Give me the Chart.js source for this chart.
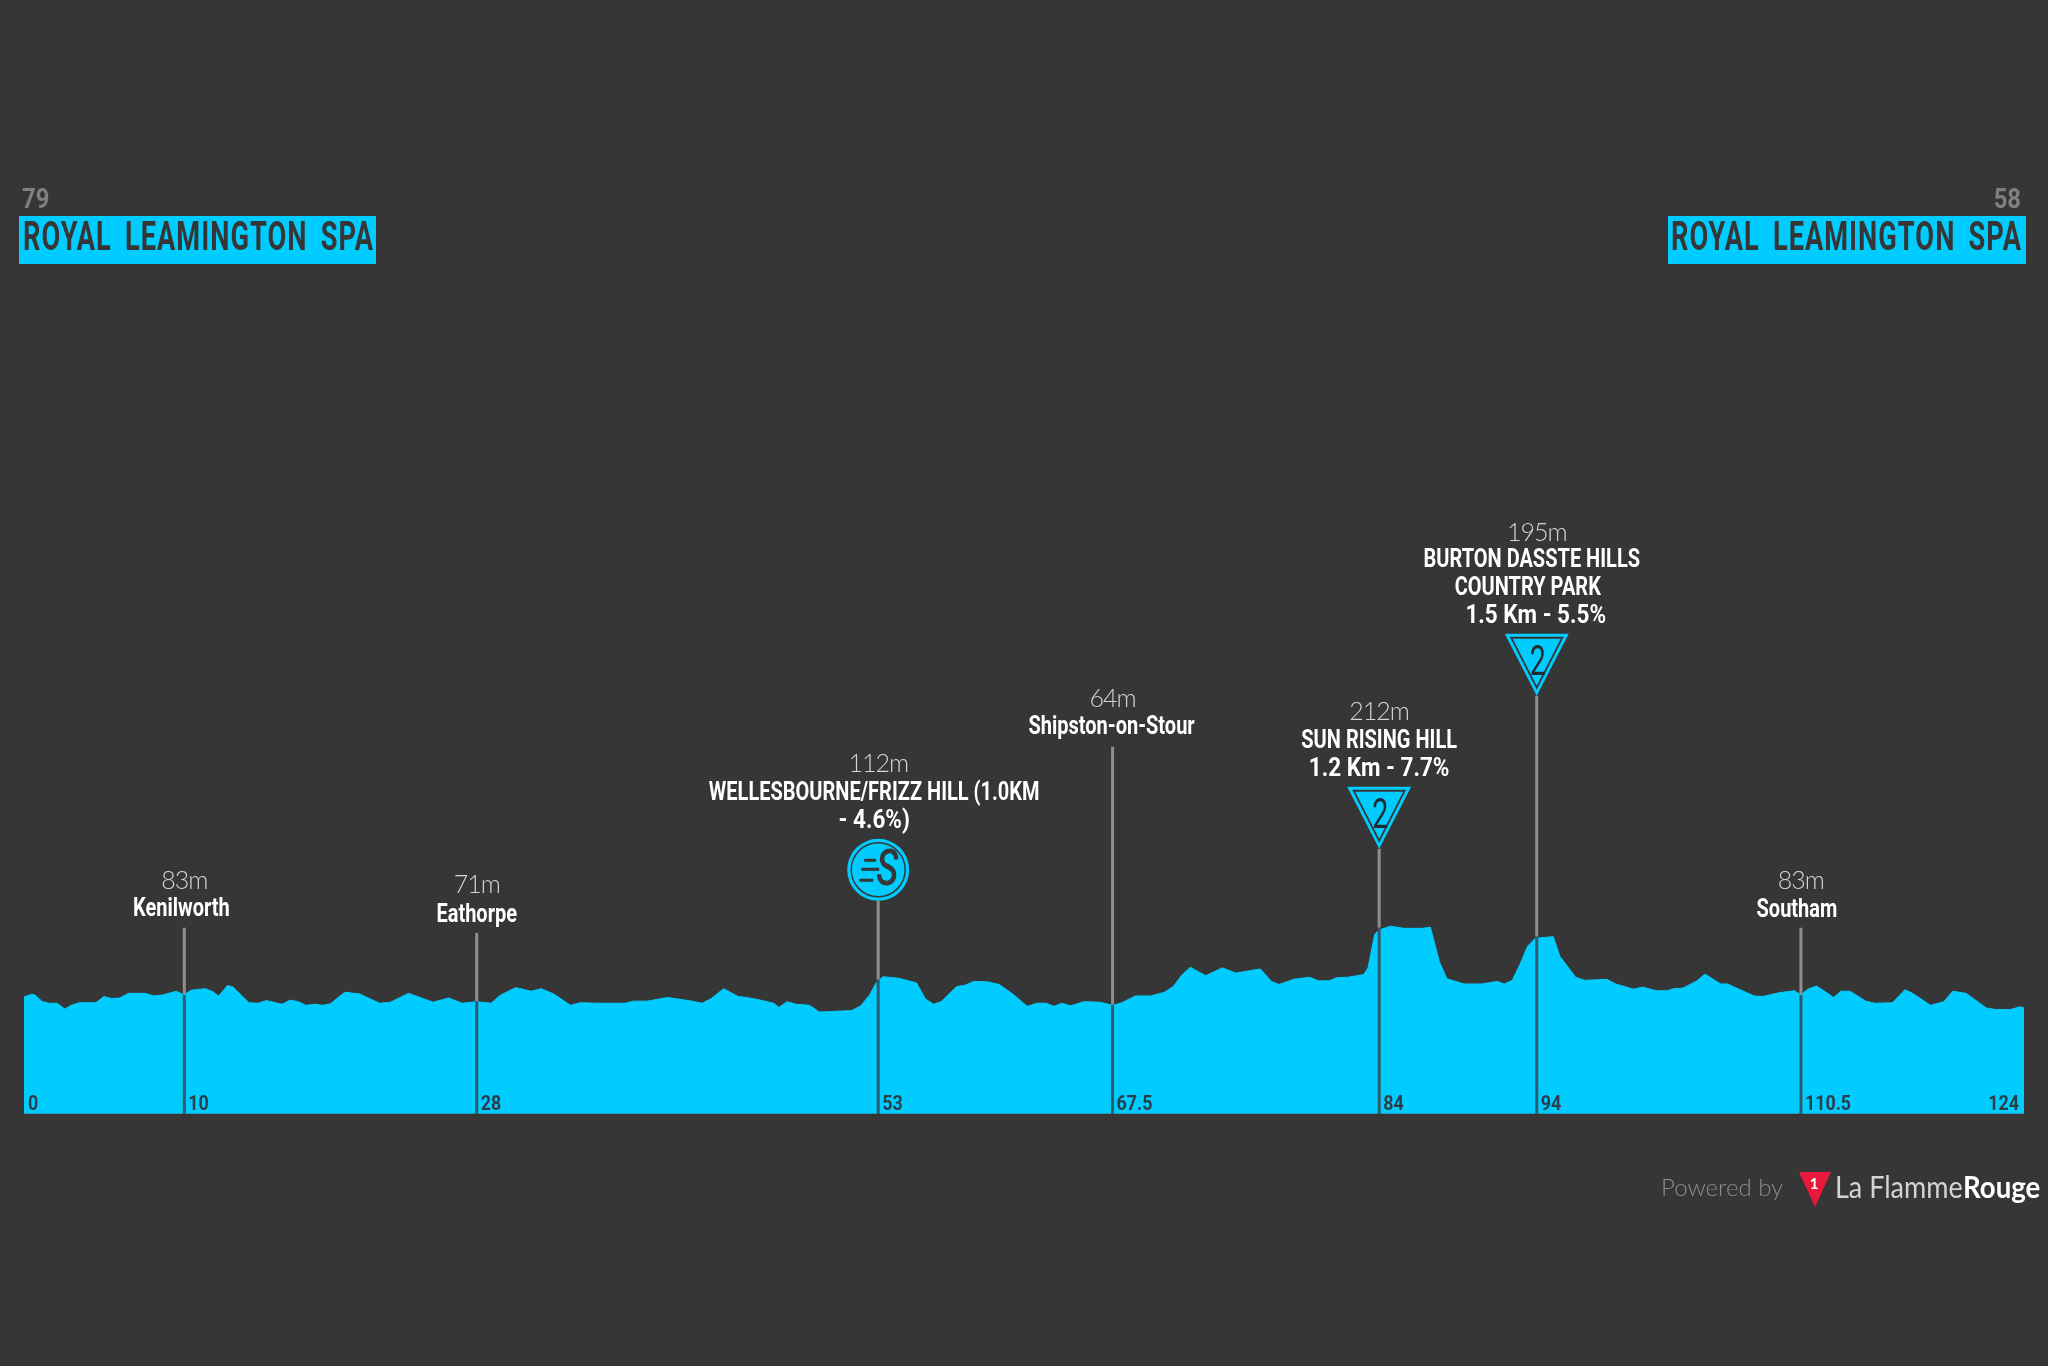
<!DOCTYPE html>
<html>
<head>
<meta charset="utf-8">
<title>Royal Leamington Spa stage profile</title>
<script src="https://cdn.jsdelivr.net/npm/chart.js@4/dist/chart.umd.min.js"></script>
<style>
  html, body { margin: 0; background: #363636; }
  canvas { display: block; }
</style>
</head>
<body>
<canvas id="profile" width="2048" height="1366"></canvas>
<script>
// route profile
const routeKm = [0, 0.45, 0.67, 1.14, 1.56, 2.05, 2.52, 2.94, 3.44, 4.46, 4.96, 5.43, 5.93, 6.48, 7.51, 8.06, 8.61, 9.44, 9.91, 10.36,
  11.24, 11.66, 12.07, 12.62, 12.96, 13.95, 14.51, 15.03, 16, 16.5, 17, 17.47, 18.02, 18.5, 19, 19.88, 20.79, 22.04, 22.73, 23.84,
  25.36, 26.33, 27.16, 28.07, 28.96, 29.51, 30.48, 31.45, 32.06, 32.83, 33.88, 34.49, 35.6, 37.26, 37.81, 38.64, 39.89, 41.22, 42.05, 42.61,
  43.38, 44.27, 44.82, 45.65, 46.48, 46.81, 47.31, 47.87, 48.7, 49.31, 50.08, 51.33, 51.88, 52.43, 52.85, 53.26, 54.23, 55.34, 55.89, 56.39,
  56.86, 57.83, 58.38, 58.88, 59.77, 60.46, 61.29, 62.2, 62.81, 63.37, 63.86, 64.33, 64.89, 65.72, 66.69, 67.52, 68.07, 68.9, 69.87, 70.7,
  71.25, 71.81, 72.31, 73.27, 74.3, 75.13, 76.65, 77.34, 77.81, 78.73, 79.7, 80.25, 80.94, 81.36, 82.08, 83.05, 83.33, 83.74, 84.02, 84.71,
  85.54, 86.65, 87.2, 87.75, 88.22, 89.28, 90.38, 91.35, 91.77, 92.27, 92.74, 93.21, 93.7, 94.81, 95.23, 96.2, 96.75, 98.13, 98.69, 99.79,
  100.35, 101.18, 101.87, 102.28, 102.84, 103.67, 104.22, 105.19, 105.61, 107.27, 107.82, 108.79, 109.76, 110.17, 110.59, 111.14, 111.83, 112.19, 112.66, 113.22,
  114.19, 114.74, 115.85, 116.62, 117.09, 118.2, 119.03, 119.58, 120.41, 121.66, 122.21, 123.18, 123.73, 124];
const routeElev = [79, 84, 83, 70, 67, 67, 56, 63, 68, 68, 80, 76, 77, 86, 86, 81, 83, 90, 83, 92,
  95, 90, 81, 101, 98, 68, 67, 72, 65, 73, 70, 63, 65, 63, 66, 88, 85, 67, 69, 86,
  69, 77, 67, 70, 67, 82, 97, 90, 95, 85, 63, 68, 67, 67, 71, 71, 78, 72, 67, 76,
  95, 80, 78, 73, 67, 59, 70, 65, 63, 50, 51, 53, 62, 83, 107, 118, 115, 106, 75, 65,
  70, 99, 102, 109, 108, 103, 85, 61, 67, 67, 61, 67, 62, 70, 69, 63, 68, 81, 81, 88,
  99, 122, 136, 120, 135, 125, 133, 109, 103, 113, 117, 110, 110, 116, 117, 122, 135, 199, 208, 215,
  211, 211, 213, 147, 114, 104, 104, 109, 104, 111, 141, 176, 192, 195, 157, 117, 111, 113, 104, 94,
  98, 91, 91, 95, 96, 109, 123, 104, 104, 81, 80, 87, 91, 83, 94, 100, 86, 78, 90, 90,
  71, 67, 68, 93, 86, 63, 70, 90, 86, 58, 55, 55, 60, 58];

// marked points along the route
const markerKm = [9.94, 28.07, 52.96, 67.49, 84.02, 93.79, 110.17];
const markerElev = [83, 71, 112, 64, 212, 195, 83];
const markerStemTop = [212, 202, 264, 560, 364, 658, 212];
const markerHeights = ['83m', '71m', '112m', '64m', '212m', '195m', '83m'];
const markerNames = [
  ['Kenilworth'],
  ['Eathorpe'],
  ['WELLESBOURNE/FRIZZ HILL (1.0KM', '- 4.6%)'],
  ['Shipston-on-Stour'],
  ['SUN RISING HILL', '1.2 Km - 7.7%'],
  ['BURTON DASSTE HILLS', 'COUNTRY PARK', '1.5 Km - 5.5%'],
  ['Southam']
];
const kmLabels = ['10', '28', '53', '67.5', '84', '94', '110.5'];
const startKmLabel = '0';
const endKmLabel = '124';
const townName = 'ROYAL LEAMINGTON SPA';
const startElevLabel = '79';
const endElevLabel = '58';

const CYAN = '#00ccff';
const BG = '#363636';
const HEAD = 'Roboto, sans-serif';
const LIGHT = 'Lato, Roboto, sans-serif';
const Y_MIN = -146;
const Y_MAX = 1996;

const profilePoints = routeKm.map((km, i) => ({ x: km, y: routeElev[i] }));
const stemUpper = markerKm.flatMap((km, i) => [{ x: km, y: markerElev[i] }, { x: km, y: markerStemTop[i] }, { x: NaN, y: NaN }]);
const stemLower = markerKm.flatMap((km, i) => [{ x: km, y: Y_MIN }, { x: km, y: markerElev[i] }, { x: NaN, y: NaN }]);

// squeeze narrows the glyphs, the reference uses a condensed face that isn't installed
const drawText = (ctx, str, x, y, font, color, { align = 'center', spacing = '0px', wordSpacing = '0px', squeeze = 1 } = {}) => {
  ctx.font = font;
  ctx.fillStyle = color;
  ctx.textAlign = align;
  ctx.textBaseline = 'middle';
  ctx.letterSpacing = spacing;
  ctx.wordSpacing = wordSpacing;
  ctx.fillText(str, x, y, ctx.measureText(str).width * squeeze);
  ctx.letterSpacing = '0px';
  ctx.wordSpacing = '0px';
};

const drawClimbBadge = (ctx, cx, top, tip) => {
  const half = 32;
  const tri = (dx, y0, y1) => {
    ctx.beginPath();
    ctx.moveTo(cx - dx, y0);
    ctx.lineTo(cx + dx, y0);
    ctx.lineTo(cx, y1);
    ctx.closePath();
  };
  ctx.fillStyle = CYAN;
  tri(half, top, tip);
  ctx.fill();
  ctx.fillStyle = BG;
  tri(half - 5, top + 3, tip - 6);
  ctx.fill();
  ctx.fillStyle = CYAN;
  tri(half - 8, top + 5, tip - 10);
  ctx.fill();
  drawText(ctx, '2', cx + 1, top + 31, `400 42px ${HEAD}`, '#1f2a30', { squeeze: 0.68 });
};

const drawSprintBadge = (ctx, cx, cy) => {
  ctx.fillStyle = CYAN;
  ctx.beginPath();
  ctx.arc(cx, cy, 31, 0, Math.PI * 2);
  ctx.fill();
  ctx.strokeStyle = BG;
  ctx.lineWidth = 1.5;
  ctx.beginPath();
  ctx.arc(cx, cy, 27, 0, Math.PI * 2);
  ctx.stroke();
  ctx.fillStyle = BG;
  ctx.fillRect(cx - 14, cy - 11, 12, 3);
  ctx.fillRect(cx - 17, cy - 2, 18, 3);
  ctx.fillRect(cx - 19, cy + 9, 14, 3);
  drawText(ctx, 'S', cx + 9, cy + 3, `italic 500 50px ${HEAD}`, BG, { squeeze: 0.75 });
};

// boxes, badges and all text
const annotations = {
  id: 'annotations',
  afterDatasetsDraw(chart) {
    const { ctx, scales: { x, y } } = chart;
    const stemX = markerKm.map(km => x.getPixelForValue(km));
    const stemY = markerStemTop.map(m => y.getPixelForValue(m));
    ctx.save();

    // start and finish
    ctx.fillStyle = CYAN;
    ctx.fillRect(19, 216, 357, 48);
    ctx.fillRect(1668, 216, 358, 48);
    const townFont = `700 40px ${HEAD}`;
    const townOpts = { spacing: '1.5px', wordSpacing: '8px', squeeze: 0.68 };
    drawText(ctx, townName, 23, 240, townFont, BG, { align: 'left', ...townOpts });
    drawText(ctx, townName, 2022, 240, townFont, BG, { align: 'right', ...townOpts });
    drawText(ctx, startElevLabel, 22, 201, `700 28px ${HEAD}`, '#808080', { align: 'left', squeeze: 0.85 });
    drawText(ctx, endElevLabel, 2021, 201, `700 28px ${HEAD}`, '#808080', { align: 'right', squeeze: 0.85 });

    // km labels inside the area
    const kmFont = `700 21px ${HEAD}`;
    const kmColor = '#2b3d46';
    drawText(ctx, startKmLabel, 28, 1105, kmFont, kmColor, { align: 'left', squeeze: 0.85 });
    kmLabels.forEach((label, i) => drawText(ctx, label, stemX[i] + 4, 1105, kmFont, kmColor, { align: 'left', squeeze: 0.85 }));
    drawText(ctx, endKmLabel, 2019, 1105, kmFont, kmColor, { align: 'right', squeeze: 0.85 });

    // height and name above each stem: [height y, first name y, line step, dx of each name line]
    const placement = [
      [881, 910, 0, [-3]],
      [885, 916, 0, [0]],
      [764, 794, 28, [-4, -4]],
      [699, 728, 0, [-1]],
      [712, 742, 28, [0, 0]],
      [533, 561, 28, [-5, -9, -1]],
      [881, 911, 0, [-4]]
    ];
    const heightFont = `300 25px ${LIGHT}`;
    const nameFont = `700 25px ${HEAD}`;
    markerHeights.forEach((label, i) => {
      const [hy, ny, step, dx] = placement[i];
      drawText(ctx, label, stemX[i], hy, heightFont, '#d4d4d4', { spacing: '-1px' });
      markerNames[i].forEach((line, j) => {
        const squeeze = line.includes('%') ? 0.9 : 0.8;
        drawText(ctx, line, stemX[i] + dx[j], ny + step * j, nameFont, '#ffffff', { squeeze });
      });
    });

    // badges sit on top of their stems
    drawSprintBadge(ctx, stemX[2], stemY[2] - 31);
    drawClimbBadge(ctx, stemX[4], stemY[4] - 62, stemY[4]);
    drawClimbBadge(ctx, stemX[5], stemY[5] - 62, stemY[5]);

    // footer
    drawText(ctx, 'Powered by', 1661, 1188, `300 24px ${LIGHT}`, '#8c8c8c', { align: 'left' });
    ctx.fillStyle = '#e8193c';
    ctx.beginPath();
    ctx.moveTo(1799, 1172);
    ctx.lineTo(1831, 1172);
    ctx.lineTo(1815, 1207);
    ctx.closePath();
    ctx.fill();
    drawText(ctx, '1', 1814, 1184, `700 15px ${LIGHT}`, '#ffffff');
    drawText(ctx, 'La Flamme', 1835, 1188, `400 30px ${LIGHT}`, '#d4d4d4', { align: 'left', squeeze: 0.9 });
    drawText(ctx, 'Rouge', 1963, 1188, `700 30px ${LIGHT}`, '#ffffff', { align: 'left', squeeze: 0.92 });

    ctx.restore();
  }
};

new Chart(document.getElementById('profile'), {
  type: 'line',
  data: {
    datasets: [
      {
        label: 'Stem inside profile',
        data: stemLower,
        borderColor: '#2f5a6c',
        borderWidth: 3,
        pointRadius: 0,
        order: 1
      },
      {
        label: 'Baseline',
        data: [{ x: 0, y: Y_MIN }, { x: 124, y: Y_MIN }],
        borderColor: '#1c9cc2',
        borderWidth: 2,
        pointRadius: 0,
        order: 2
      },
      {
        label: 'Elevation',
        data: profilePoints,
        borderColor: CYAN,
        backgroundColor: CYAN,
        borderWidth: 1,
        pointRadius: 0,
        tension: 0,
        fill: 'start',
        order: 3
      },
      {
        label: 'Stem',
        data: stemUpper,
        borderColor: '#8f8f8f',
        borderWidth: 3,
        pointRadius: 0,
        order: 4
      }
    ]
  },
  options: {
    responsive: false,
    animation: false,
    layout: { padding: { left: 24, right: 24, top: 0, bottom: 252 } },
    plugins: { legend: { display: false }, tooltip: { enabled: false } },
    scales: {
      x: { type: 'linear', min: 0, max: 124, display: false },
      y: { type: 'linear', min: Y_MIN, max: Y_MAX, display: false }
    }
  },
  plugins: [annotations]
});
</script>
</body>
</html>
